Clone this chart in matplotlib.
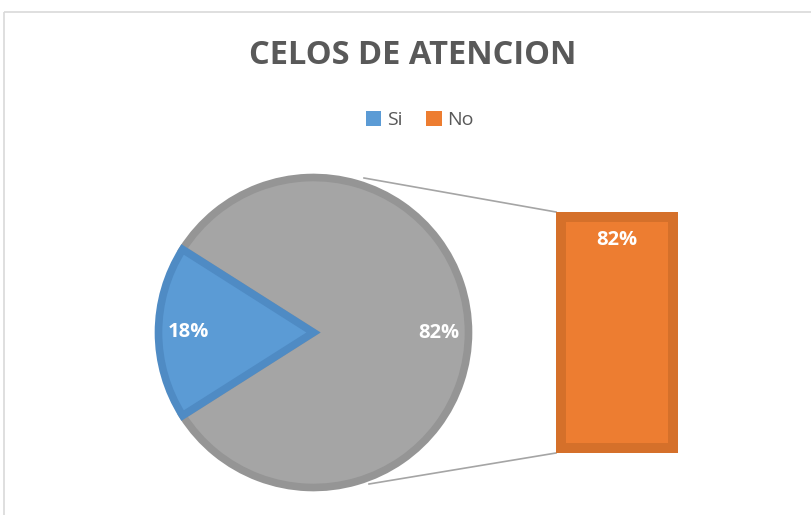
import matplotlib
matplotlib.use("Agg")
import matplotlib.pyplot as plt
from matplotlib.patches import Patch, Rectangle

# data
labels = ["Si", "No"]
values = [18, 82]
bar_group = [82]  # "No" split out into the bar
bar_label = "82%"

# colours
blue = "#5b9bd5"
blue_edge = "#4f8bc4"
grey = "#a5a5a5"
grey_edge = "#959595"
orange = "#ed7d31"
orange_edge = "#d5702a"
text_grey = "#595959"

plt.rcParams["font.family"] = ["Open Sans", "DejaVu Sans"]

fig = plt.figure(figsize=(8.12, 5.15), dpi=100)
ax = fig.add_axes([0, 0, 1, 1])

# pie, in pixel coordinates (y goes down)
cx, cy, r = 313.5, 332.5, 155
start = 180 - values[0] * 3.6 / 2
wedges, _, autotexts = ax.pie(
    values, colors=[blue, grey], startangle=start, center=(cx, cy), radius=r,
    frame=True, autopct="%1.0f%%", pctdistance=0.81,
    wedgeprops=dict(linewidth=5.5, edgecolor="none"),
    textprops=dict(color="white", fontsize=14.5, fontweight="bold"))
wedges[0].set_edgecolor(blue_edge)
wedges[1].set_edgecolor(grey_edge)
wedges[0].set_zorder(3)

# bar of the split-out part
bar_x, bar_w, bar_bottom, bar_px = 617, 112, 448, 231
total = sum(bar_group)
bottom = bar_bottom
for v in bar_group:
    h = bar_px * v / total
    ax.bar(bar_x, -h, width=bar_w, bottom=bottom, color=orange,
           edgecolor=orange_edge, linewidth=7.2, zorder=2)
    bottom -= h
ax.text(bar_x, 240, bar_label, color="white", fontsize=14.5,
        fontweight="bold", ha="center", va="center", zorder=4)

# connector lines
ax.plot([364, 556], [178, 212], color="#a5a5a5", lw=1.2, zorder=1)
ax.plot([369, 556], [484, 453], color="#a5a5a5", lw=1.2, zorder=1)

# chart frame
ax.add_patch(Rectangle((4.5, 11.5), 900, 600, fill=False,
                       edgecolor="#d9d9d9", lw=1.2, zorder=0))

ax.set_xlim(0, 812)
ax.set_ylim(515, 0)
ax.set_aspect("auto")
ax.axis("off")

ax.text(413, 56, "CELOS DE ATENCION", color=text_grey, fontsize=23.5,
        fontweight="bold", ha="center", va="center")

handles = [Patch(facecolor=blue), Patch(facecolor=orange)]
ax.legend(handles, labels, ncol=2, loc="center",
          bbox_to_anchor=(420 / 812, 1 - 120 / 515), frameon=False,
          handlelength=0.8, handleheight=0.8, handletextpad=0.3,
          columnspacing=1.2, fontsize=14, labelcolor=text_grey)

fig.savefig("out.png", dpi=100)
